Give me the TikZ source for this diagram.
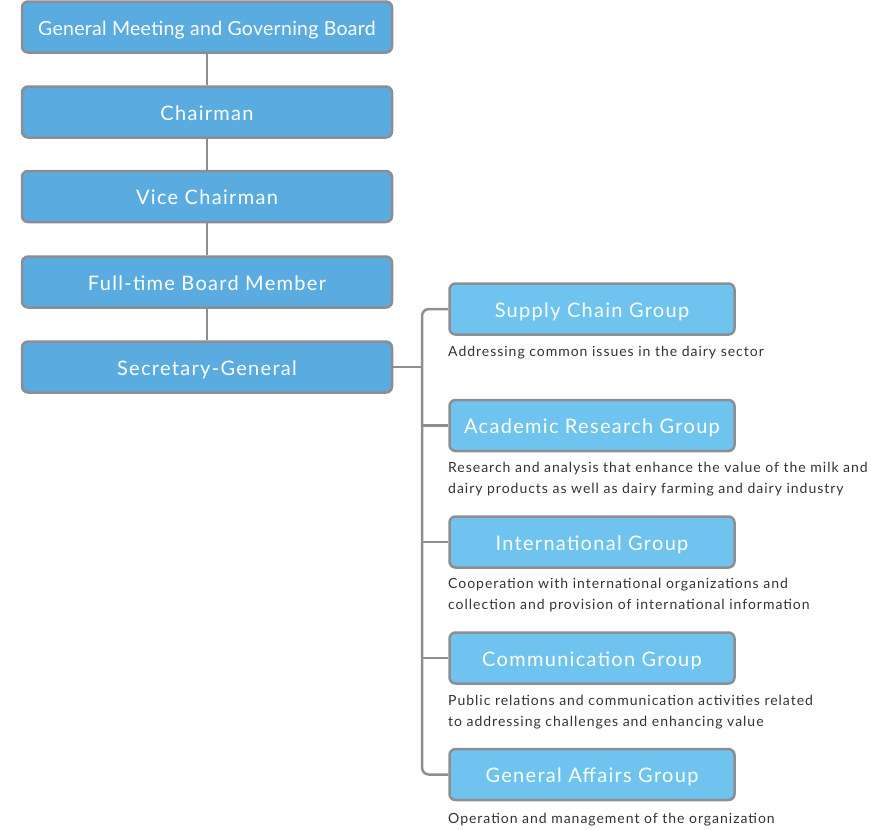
\documentclass[tikz,border=0pt]{standalone}
\usepackage{fontspec}
\setmainfont{Lato}
\definecolor{leftfill}{HTML}{5AACE0}
\definecolor{rightfill}{HTML}{6EC4EE}
\definecolor{edgegrey}{HTML}{8E8E92}
\definecolor{desctext}{HTML}{333333}
\begin{document}
\begin{tikzpicture}[x=1pt,y=-1pt,
  boxfont/.style={font=\fontsize{20}{22}\selectfont\addfontfeature{LetterSpace=6.5}},
  mainbox/.style={draw=edgegrey,line width=2.5pt,fill=leftfill,rounded corners=6pt,minimum width=370pt,minimum height=51pt,text=white,boxfont,inner sep=0pt,text height=16.5pt,text depth=0pt},
  groupbox/.style={draw=edgegrey,line width=2.5pt,fill=rightfill,rounded corners=6pt,minimum width=285pt,minimum height=51pt,text=white,boxfont,inner sep=0pt,text height=16.5pt,text depth=0pt},
  desc/.style={anchor=north west,align=left,text=desctext,font=\fontsize{14}{21}\selectfont\addfontfeature{LetterSpace=7},inner sep=0pt},
  link/.style={draw=edgegrey,line width=2.5pt}]
\useasboundingbox (0,0) rectangle (871,830);
% left chain
\node[mainbox,font=\fontsize{19.5}{22}\selectfont\addfontfeature{LetterSpace=1.5}] (gm) at (207,27) {General Meeting and Governing Board};
\node[mainbox] (ch) at (207,112) {Chairman};
\node[mainbox] (vc) at (207,196.5) {Vice Chairman};
\node[mainbox] (fb) at (207,282) {Full-time Board Member};
\node[mainbox] (sg) at (207,367) {Secretary-General};
% groups
\node[groupbox] (sc) at (592,309) {Supply Chain Group};
\node[groupbox] (ar) at (592,425.5) {Academic Research Group};
\node[groupbox] (ig) at (592,542) {International Group};
\node[groupbox] (cg) at (592,658) {Communication Group};
\node[groupbox] (ga) at (592,774.5) {General Affairs Group};
% descriptions
\node[desc] (dsc) at (448,346) {Addressing common issues in the dairy sector};
\node[desc] (dar) at (448,462) {Research and analysis that enhance the value of the milk and\\dairy products as well as dairy farming and dairy industry};
\node[desc] (dig) at (448,578) {Cooperation with international organizations and\\collection and provision of international information};
\node[desc] (dcg) at (448,695) {Public relations and communication activities related\\to addressing challenges and enhancing value};
\node[desc] (dga) at (448,813) {Operation and management of the organization};
% connectors
\coordinate (trunk) at (422,367);
\draw[link] (gm.south) -- (ch.north);
\draw[link] (ch.south) -- (vc.north);
\draw[link] (vc.south) -- (fb.north);
\draw[link] (fb.south) -- (sg.north);
\draw[link] (sg.east) -- (trunk);
\draw[link,rounded corners=7pt] (sc.west) -- (sc.west -| trunk) -- (ga.west -| trunk) -- (ga.west);
\draw[link] (ar.west) -- (ar.west -| trunk);
\draw[link] (ig.west) -- (ig.west -| trunk);
\draw[link] (cg.west) -- (cg.west -| trunk);
\end{tikzpicture}
\end{document}
